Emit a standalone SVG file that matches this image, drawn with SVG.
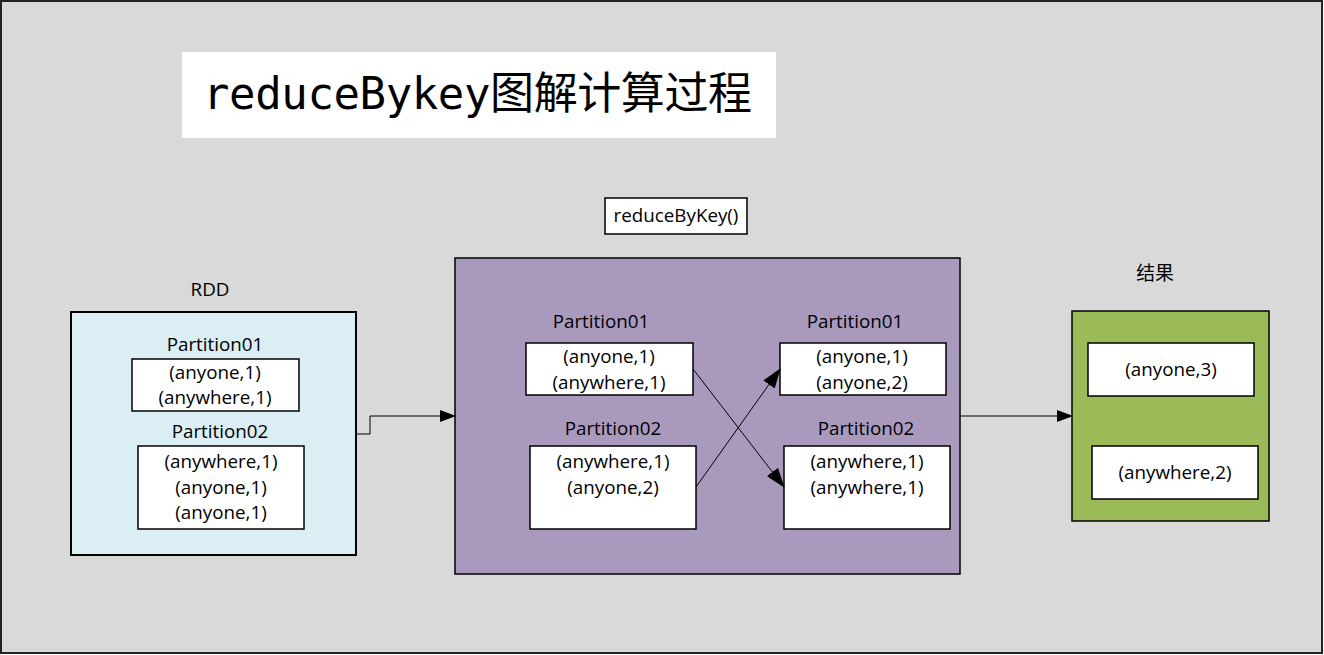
<svg xmlns="http://www.w3.org/2000/svg" width="1324" height="655" viewBox="0 0 1324 655">
<defs>
<style>
.t{font-family:"Open Sans","Liberation Sans","Noto Sans CJK SC",sans-serif;font-size:18.8px;fill:#000;text-anchor:middle}
.box{fill:#fff;stroke:#000;stroke-width:1.5}
.ln{fill:none;stroke:#000;stroke-width:1}
</style>
<marker id="ah" markerWidth="16" markerHeight="12" refX="15" refY="6" orient="auto" markerUnits="userSpaceOnUse">
<path d="M0,0 L16,6 L0,12 Z" fill="#000"/>
</marker>
<marker id="ah2" markerWidth="20" markerHeight="14" refX="19" refY="7" orient="auto" markerUnits="userSpaceOnUse">
<path d="M0,0 L20,7 L0,14 Z" fill="#000"/>
</marker>
</defs>
<rect x="1" y="1" width="1321" height="652" fill="#d9d9d9" stroke="#222" stroke-width="2"/>
<g id="title">
<rect x="182" y="52" width="594" height="86" fill="#fff"/>
<text x="203" y="109" textLength="549" lengthAdjust="spacing" style="font-family:'DejaVu Sans Mono','Noto Sans CJK SC',monospace;font-size:44px;fill:#000">reduceBykey图解计算过程</text>
</g>
<g id="reduceByKey">
<rect class="box" x="605" y="198" width="142" height="36"/>
<text class="t" x="676" y="222">reduceByKey()</text>
</g>
<g id="rdd">
<text class="t" x="210" y="296">RDD</text>
<rect x="71" y="312" width="285" height="243" fill="#daeef3" stroke="#000" stroke-width="2"/>
<text class="t" x="215" y="351">Partition01</text>
<rect class="box" x="132" y="359" width="167" height="52"/>
<text class="t" x="215" y="379">(anyone,1)</text>
<text class="t" x="215" y="404">(anywhere,1)</text>
<text class="t" x="220" y="438">Partition02</text>
<rect class="box" x="138" y="446" width="166" height="83"/>
<text class="t" x="221" y="468">(anywhere,1)</text>
<text class="t" x="221" y="494">(anyone,1)</text>
<text class="t" x="221" y="519">(anyone,1)</text>
</g>
<g id="shuffle">
<rect x="455" y="258" width="505" height="316" fill="#a99abd" stroke="#000" stroke-width="1.5"/>
<text class="t" x="601" y="328">Partition01</text>
<rect class="box" x="526" y="343" width="167" height="52"/>
<text class="t" x="609" y="363">(anyone,1)</text>
<text class="t" x="609" y="389">(anywhere,1)</text>
<text class="t" x="613" y="435">Partition02</text>
<rect class="box" x="530" y="446" width="166" height="83"/>
<text class="t" x="613" y="468">(anywhere,1)</text>
<text class="t" x="613" y="494">(anyone,2)</text>
<text class="t" x="855" y="328">Partition01</text>
<rect class="box" x="780" y="343" width="166" height="52"/>
<text class="t" x="862" y="363">(anyone,1)</text>
<text class="t" x="862" y="389">(anyone,2)</text>
<text class="t" x="866" y="435">Partition02</text>
<rect class="box" x="784" y="446" width="166" height="83"/>
<text class="t" x="867" y="468">(anywhere,1)</text>
<text class="t" x="867" y="494">(anywhere,1)</text>
</g>
<g id="result">
<text class="t" x="1155" y="280">结果</text>
<rect x="1072" y="311" width="197" height="210" fill="#9bbb59" stroke="#000" stroke-width="1.5"/>
<rect class="box" x="1088" y="343" width="166" height="53"/>
<text class="t" x="1171" y="376">(anyone,3)</text>
<rect class="box" x="1092" y="446" width="166" height="53"/>
<text class="t" x="1175" y="479">(anywhere,2)</text>
</g>
<g id="connectors">
<path class="ln" d="M356,434 H370 V416 H455" marker-end="url(#ah)"/>
<path class="ln" d="M693,369 L784,487" marker-end="url(#ah2)"/>
<path class="ln" d="M696,487 L780,369" marker-end="url(#ah2)"/>
<path class="ln" d="M960,416 H1072" marker-end="url(#ah)"/>
</g>
</svg>
